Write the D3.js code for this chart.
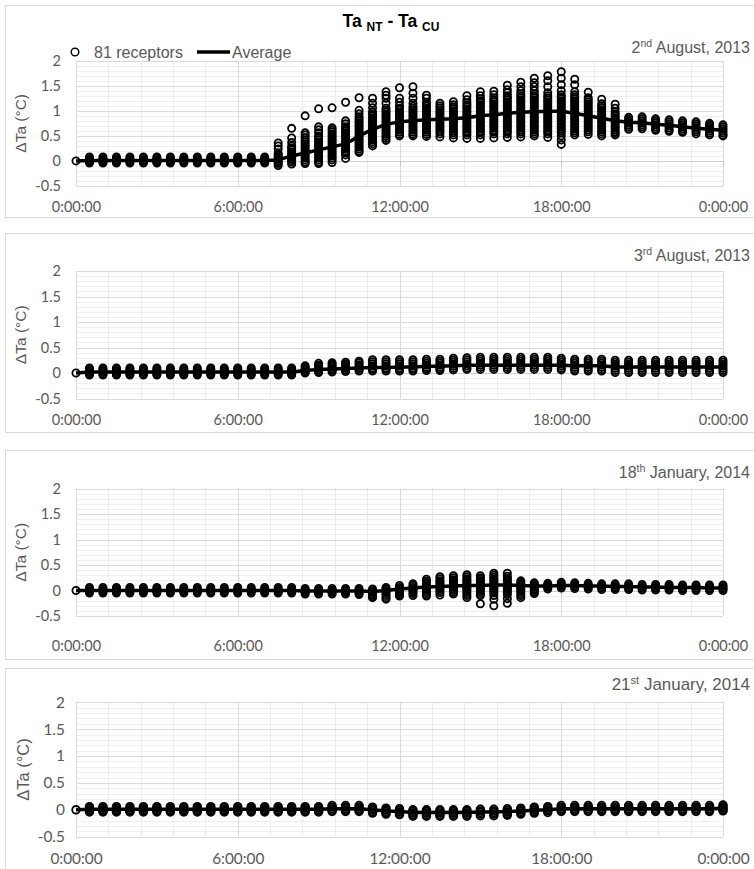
<!DOCTYPE html>
<html>
<head>
<meta charset="utf-8">
<script src="https://cdn.jsdelivr.net/npm/d3@7"></script>
<style>
  body { margin: 0; background: #fff; }
  svg { display: block; }
</style>
</head>
<body>
<svg id="chart" width="754" height="869"></svg>
<script>
// Half-hourly readings: column i is at i * 0.5 h, 49 columns from 0:00 to 24:00.
const TIME_STEP_H = 0.5;
const majorHours = [0, 6, 12, 18, 24];
const yMajorTicks = [-0.5, 0, 0.5, 1, 1.5, 2];

// ---- 2nd August 2013: receptor values per half-hour column and the average ----
const aug2Receptors = [
  [0],
  [0.08,0.05,0.02,0,-0.02,-0.04],
  [0.08,0.05,0.02,0,-0.02,-0.04],
  [0.08,0.05,0.02,0,-0.02,-0.04],
  [0.08,0.05,0.02,0,-0.02,-0.04],
  [0.08,0.05,0.02,0,-0.02,-0.04],
  [0.08,0.05,0.02,0,-0.02,-0.04],
  [0.08,0.05,0.02,0,-0.02,-0.04],
  [0.08,0.05,0.02,0,-0.02,-0.04],
  [0.08,0.05,0.02,0,-0.02,-0.04],
  [0.08,0.05,0.02,0,-0.02,-0.04],
  [0.08,0.05,0.02,0,-0.02,-0.04],
  [0.08,0.05,0.02,0,-0.02,-0.04],
  [0.08,0.05,0.02,0,-0.02,-0.04],
  [0.08,0.05,0.02,0,-0.02,-0.04],
  [0.36,0.3,0.24,0.15,0.12,0.09,0.06,0.03,0,-0.03,-0.05,-0.09],
  [0.65,0.46,0.37,0.3,0.26,0.22,0.18,0.14,0.1,0.07,0.04,0.01,-0.02,-0.06],
  [0.9,0.56,0.52,0.47,0.42,0.38,0.34,0.3,0.26,0.22,0.18,0.14,0.1,0.06,0.02,-0.02,-0.05],
  [1.04,0.68,0.62,0.56,0.5,0.46,0.42,0.38,0.34,0.3,0.26,0.22,0.18,0.14,0.1,0.06,0.02,-0.02,-0.05],
  [1.06,0.66,0.62,0.58,0.54,0.5,0.46,0.42,0.38,0.34,0.3,0.26,0.22,0.18,0.14,0.1,0.06,0.02,-0.03],
  [1.17,0.8,0.74,0.68,0.64,0.6,0.56,0.52,0.48,0.44,0.4,0.36,0.32,0.28,0.24,0.2,0.16,0.12,0.05],
  [1.26,1.01,0.94,0.88,0.84,0.8,0.76,0.72,0.68,0.64,0.6,0.56,0.52,0.48,0.44,0.4,0.36,0.32,0.28,0.24,0.2,0.17],
  [1.25,1.15,1.06,0.98,0.94,0.9,0.86,0.82,0.78,0.74,0.7,0.66,0.62,0.58,0.54,0.5,0.46,0.42,0.38,0.34,0.3],
  [1.38,1.31,1.25,1.15,1.05,1.01,0.97,0.93,0.89,0.85,0.81,0.77,0.73,0.69,0.65,0.61,0.57,0.53,0.49,0.45,0.41],
  [1.46,1.25,1.17,1.1,1.05,1.01,0.97,0.93,0.89,0.85,0.81,0.77,0.73,0.69,0.65,0.61,0.57,0.53,0.5],
  [1.48,1.35,1.25,1.15,1.09,1.05,1.01,0.97,0.93,0.89,0.85,0.81,0.77,0.73,0.69,0.65,0.61,0.57,0.53,0.5],
  [1.31,1.25,1.17,1.13,1.09,1.05,1.01,0.97,0.93,0.89,0.85,0.81,0.77,0.73,0.69,0.65,0.61,0.57,0.53,0.49],
  [1.15,1.1,1.06,1.02,0.98,0.94,0.9,0.86,0.82,0.78,0.74,0.7,0.66,0.62,0.58,0.54,0.48],
  [1.18,1.12,1.08,1.04,1,0.96,0.92,0.88,0.84,0.8,0.76,0.72,0.68,0.64,0.6,0.56,0.52,0.46],
  [1.3,1.22,1.16,1.12,1.08,1.04,1,0.96,0.92,0.88,0.84,0.8,0.76,0.72,0.68,0.64,0.6,0.56,0.52,0.45],
  [1.38,1.3,1.24,1.2,1.16,1.12,1.08,1.04,1,0.96,0.92,0.88,0.84,0.8,0.76,0.72,0.68,0.64,0.6,0.56,0.52,0.45],
  [1.39,1.32,1.26,1.22,1.18,1.14,1.1,1.06,1.02,0.98,0.94,0.9,0.86,0.82,0.78,0.74,0.7,0.66,0.62,0.58,0.54,0.46],
  [1.51,1.42,1.36,1.3,1.26,1.22,1.18,1.14,1.1,1.06,1.02,0.98,0.94,0.9,0.86,0.82,0.78,0.74,0.7,0.66,0.62,0.58,0.54,0.47],
  [1.57,1.48,1.4,1.34,1.3,1.26,1.22,1.18,1.14,1.1,1.06,1.02,0.98,0.94,0.9,0.86,0.82,0.78,0.74,0.7,0.66,0.62,0.58,0.54,0.48],
  [1.65,1.56,1.48,1.4,1.34,1.3,1.26,1.22,1.18,1.14,1.1,1.06,1.02,0.98,0.94,0.9,0.86,0.82,0.78,0.74,0.7,0.66,0.62,0.58,0.54,0.5],
  [1.7,1.6,1.48,1.36,1.3,1.26,1.22,1.18,1.14,1.1,1.06,1.02,0.98,0.94,0.9,0.86,0.82,0.78,0.74,0.7,0.66,0.62,0.58,0.54,0.47],
  [1.78,1.65,1.52,1.4,1.32,1.28,1.24,1.2,1.16,1.12,1.08,1.04,1,0.96,0.92,0.88,0.84,0.8,0.76,0.72,0.68,0.64,0.6,0.56,0.5,0.42,0.33],
  [1.63,1.52,1.38,1.32,1.28,1.24,1.2,1.16,1.12,1.08,1.04,1,0.96,0.92,0.88,0.84,0.8,0.76,0.72,0.68,0.64,0.6,0.56,0.52],
  [1.37,1.26,1.22,1.18,1.14,1.1,1.06,1.02,0.98,0.94,0.9,0.86,0.82,0.78,0.74,0.7,0.66,0.62,0.58,0.53],
  [1.23,1.14,1.1,1.06,1.02,0.98,0.94,0.9,0.86,0.82,0.78,0.74,0.7,0.66,0.62,0.58,0.54,0.5],
  [1.13,1.05,0.98,0.94,0.9,0.86,0.82,0.78,0.74,0.7,0.66,0.62,0.58,0.55,0.52],
  [0.87,0.83,0.79,0.75,0.71,0.67,0.63],
  [0.88,0.84,0.8,0.76,0.72,0.68,0.64],
  [0.84,0.8,0.76,0.72,0.68,0.64,0.61],
  [0.82,0.78,0.74,0.7,0.66,0.62,0.59],
  [0.8,0.76,0.72,0.68,0.64,0.6,0.57],
  [0.78,0.74,0.7,0.66,0.62,0.58,0.54],
  [0.75,0.71,0.67,0.63,0.59,0.55,0.52],
  [0.72,0.68,0.64,0.6,0.56,0.52,0.5]
];
const aug2Average = [
  0, 0.01,0.01,0.01,0.01,0.01,0.01,0.01,0.01,0.01,0.01,0.01,0.01,0.01,0.01,
  0.02, 0.1, 0.16, 0.22, 0.28, 0.34, 0.5, 0.63, 0.73, 0.78, 0.8, 0.82, 0.83, 0.84, 0.86,
  0.9, 0.92, 0.95, 0.97, 0.98, 0.99, 0.99, 0.95, 0.9, 0.85, 0.8, 0.77, 0.76, 0.73,
  0.71, 0.68, 0.65, 0.63, 0.61
];

// ---- 3rd August 2013 ----
const aug3Receptors = [
  [0],
  [0.1,0.07,0.04,0.01,-0.02,-0.04],
  [0.1,0.07,0.04,0.01,-0.02,-0.04],
  [0.1,0.07,0.04,0.01,-0.02,-0.04],
  [0.1,0.07,0.04,0.01,-0.02,-0.04],
  [0.1,0.07,0.04,0.01,-0.02,-0.04],
  [0.1,0.07,0.04,0.01,-0.02,-0.04],
  [0.1,0.07,0.04,0.01,-0.02,-0.04],
  [0.1,0.07,0.04,0.01,-0.02,-0.04],
  [0.1,0.07,0.04,0.01,-0.02,-0.04],
  [0.1,0.07,0.04,0.01,-0.02,-0.04],
  [0.1,0.07,0.04,0.01,-0.02,-0.04],
  [0.1,0.07,0.04,0.01,-0.02,-0.04],
  [0.1,0.07,0.04,0.01,-0.02,-0.04],
  [0.1,0.07,0.04,0.01,-0.02,-0.04],
  [0.1,0.07,0.04,0.01,-0.02,-0.04],
  [0.1,0.07,0.04,0.01,-0.02,-0.04],
  [0.14,0.11,0.08,0.05,0.02,0],
  [0.19,0.15,0.12,0.09,0.06,0.03,0.01],
  [0.2,0.17,0.14,0.11,0.08,0.05,0.02],
  [0.21,0.18,0.15,0.12,0.09,0.06,0.03],
  [0.23,0.2,0.16,0.13,0.1,0.07,0.04],
  [0.26,0.22,0.18,0.14,0.1,0.07,0.04],
  [0.26,0.22,0.18,0.14,0.1,0.07,0.04],
  [0.26,0.22,0.18,0.14,0.1,0.07,0.04],
  [0.26,0.22,0.18,0.14,0.1,0.07,0.04],
  [0.27,0.23,0.19,0.15,0.11,0.08,0.05],
  [0.27,0.23,0.19,0.15,0.11,0.08,0.05],
  [0.29,0.25,0.21,0.17,0.13,0.09,0.06],
  [0.3,0.26,0.22,0.18,0.14,0.1,0.07],
  [0.31,0.27,0.23,0.19,0.15,0.11,0.07],
  [0.31,0.27,0.23,0.19,0.15,0.11,0.07],
  [0.31,0.27,0.23,0.19,0.15,0.11,0.07],
  [0.31,0.27,0.23,0.19,0.15,0.11,0.07],
  [0.31,0.27,0.23,0.19,0.15,0.11,0.07],
  [0.31,0.27,0.23,0.19,0.15,0.11,0.07],
  [0.29,0.25,0.21,0.17,0.13,0.09,0.06],
  [0.27,0.23,0.19,0.15,0.11,0.07,0.04],
  [0.27,0.23,0.19,0.15,0.11,0.07,0.04],
  [0.27,0.23,0.19,0.15,0.11,0.07,0.04],
  [0.25,0.21,0.17,0.13,0.09,0.05,0.01],
  [0.25,0.21,0.17,0.13,0.09,0.05,0.01],
  [0.25,0.21,0.17,0.13,0.09,0.05,0.01],
  [0.25,0.21,0.17,0.13,0.09,0.05,0.01],
  [0.25,0.21,0.17,0.13,0.09,0.05,0.01],
  [0.25,0.21,0.17,0.13,0.09,0.05,0.01],
  [0.25,0.21,0.17,0.13,0.09,0.05,0.01],
  [0.25,0.21,0.17,0.13,0.09,0.05,0.01],
  [0.25,0.21,0.17,0.13,0.09,0.05,0.01]
];
const aug3Average = [
  0, 0.02,0.02,0.02,0.02,0.02,0.02,0.02,0.02,0.02,0.02,0.02,0.02,0.02,0.02,0.02,0.02,
  0.05, 0.07, 0.08, 0.09, 0.1, 0.11, 0.11, 0.12, 0.12, 0.13, 0.13, 0.14,
  0.15, 0.15, 0.15, 0.15, 0.15, 0.15, 0.15, 0.15, 0.14, 0.14, 0.14,
  0.12, 0.12, 0.12, 0.12, 0.12, 0.12, 0.12, 0.12, 0.12
];

// ---- 18th January 2014 ----
const jan18Receptors = [
  [0],
  [0.06,0.03,0,-0.02,-0.05],
  [0.06,0.03,0,-0.02,-0.05],
  [0.06,0.03,0,-0.02,-0.05],
  [0.06,0.03,0,-0.02,-0.05],
  [0.06,0.03,0,-0.02,-0.05],
  [0.06,0.03,0,-0.02,-0.05],
  [0.06,0.03,0,-0.02,-0.05],
  [0.06,0.03,0,-0.02,-0.05],
  [0.06,0.03,0,-0.02,-0.05],
  [0.06,0.03,0,-0.02,-0.05],
  [0.06,0.03,0,-0.02,-0.05],
  [0.06,0.03,0,-0.02,-0.05],
  [0.06,0.03,0,-0.02,-0.05],
  [0.06,0.03,0,-0.02,-0.05],
  [0.06,0.03,0,-0.02,-0.05],
  [0.06,0.03,0,-0.02,-0.05],
  [0.04,0.01,-0.01,-0.04,-0.07],
  [0.04,0.01,-0.01,-0.04,-0.07],
  [0.04,0.01,-0.01,-0.04,-0.07],
  [0.04,0.01,-0.01,-0.04,-0.07],
  [0.04,0.01,-0.02,-0.05,-0.08],
  [0.03,0,-0.03,-0.06,-0.09,-0.12,-0.14],
  [0.06,0.03,0,-0.03,-0.06,-0.1,-0.14,-0.17],
  [0.1,0.06,0.03,0,-0.03,-0.06,-0.09,-0.11],
  [0.13,0.1,0.06,0.03,0,-0.03,-0.06,-0.1],
  [0.22,0.18,0.15,0.12,0.09,0.06,0.03,0,-0.04,-0.08,-0.11],
  [0.27,0.23,0.19,0.16,0.13,0.1,0.07,0.04,0,-0.04,-0.09],
  [0.29,0.25,0.21,0.18,0.15,0.12,0.09,0.06,0.03,0,-0.04,-0.07],
  [0.31,0.27,0.23,0.2,0.17,0.14,0.11,0.08,0.05,0.02,-0.02,-0.06,-0.1,-0.14],
  [0.29,0.25,0.22,0.19,0.16,0.13,0.1,0.07,0.04,0.01,-0.02,-0.06,-0.1,-0.26],
  [0.34,0.3,0.26,0.23,0.2,0.17,0.14,0.11,0.08,0.05,0.02,-0.01,-0.05,-0.1,-0.17,-0.3],
  [0.34,0.28,0.24,0.21,0.18,0.15,0.12,0.09,0.06,0.03,0,-0.04,-0.08,-0.16,-0.25],
  [0.19,0.16,0.13,0.1,0.07,0.04,0.01,-0.02,-0.06,-0.1,-0.14],
  [0.15,0.12,0.09,0.06,0.03,0,-0.03,-0.06],
  [0.14,0.11,0.08,0.06,0.03],
  [0.16,0.13,0.1,0.08,0.05],
  [0.15,0.12,0.09,0.07,0.04],
  [0.14,0.11,0.08,0.06,0.03],
  [0.13,0.1,0.07,0.05,0.02],
  [0.13,0.1,0.07,0.05,0.02],
  [0.13,0.1,0.07,0.05,0.02],
  [0.12,0.09,0.06,0.04,0.01],
  [0.12,0.09,0.06,0.04,0.01],
  [0.12,0.09,0.06,0.04,0.01],
  [0.11,0.08,0.05,0.03,0],
  [0.11,0.08,0.05,0.03,0],
  [0.11,0.08,0.05,0.03,0],
  [0.11,0.08,0.05,0.03,0]
];
const jan18Average = [
  0, 0,0,0,0,0,0,0,0,0,0,0,0,0,0,0,0,
  -0.01, -0.01, -0.01, -0.01, -0.01, -0.02, 0, 0.03, 0.05, 0.07, 0.08, 0.09,
  0.1, 0.1, 0.11, 0.11, 0.1, 0.09, 0.09, 0.1, 0.1, 0.09, 0.09,
  0.08, 0.08, 0.07, 0.07, 0.06, 0.06, 0.06, 0.05, 0.05
];

// ---- 21st January 2014 ----
const jan21Receptors = [
  [0],
  [0.06,0.03,0,-0.02,-0.04],
  [0.06,0.03,0,-0.02,-0.04],
  [0.06,0.03,0,-0.02,-0.04],
  [0.06,0.03,0,-0.02,-0.04],
  [0.06,0.03,0,-0.02,-0.04],
  [0.06,0.03,0,-0.02,-0.04],
  [0.06,0.03,0,-0.02,-0.04],
  [0.06,0.03,0,-0.02,-0.04],
  [0.06,0.03,0,-0.02,-0.04],
  [0.06,0.03,0,-0.02,-0.04],
  [0.06,0.03,0,-0.02,-0.04],
  [0.06,0.03,0,-0.02,-0.04],
  [0.06,0.03,0,-0.02,-0.04],
  [0.06,0.03,0,-0.02,-0.04],
  [0.06,0.03,0,-0.02,-0.04],
  [0.06,0.03,0,-0.02,-0.04],
  [0.06,0.03,0,-0.02,-0.04],
  [0.06,0.03,0,-0.02,-0.04],
  [0.08,0.05,0.02,-0.01,-0.03],
  [0.08,0.05,0.02,-0.01,-0.03],
  [0.08,0.05,0.02,-0.01,-0.03],
  [0.05,0.02,-0.01,-0.04,-0.06],
  [0.03,0,-0.03,-0.06,-0.08],
  [0.02,-0.01,-0.04,-0.07,-0.09],
  [0,-0.03,-0.06,-0.09,-0.12],
  [0,-0.03,-0.06,-0.09,-0.12],
  [0,-0.03,-0.06,-0.09,-0.12],
  [0,-0.03,-0.06,-0.09,-0.12],
  [0,-0.03,-0.06,-0.09,-0.12],
  [0.01,-0.02,-0.05,-0.08,-0.11],
  [0.01,-0.02,-0.05,-0.08,-0.11],
  [0.02,-0.01,-0.04,-0.07,-0.1],
  [0.03,0,-0.03,-0.06,-0.08],
  [0.05,0.02,-0.01,-0.04,-0.06],
  [0.06,0.03,0,-0.02,-0.05],
  [0.08,0.05,0.02,-0.01,-0.03],
  [0.08,0.05,0.02,-0.01,-0.03],
  [0.08,0.05,0.02,-0.01,-0.03],
  [0.08,0.05,0.02,-0.01,-0.03],
  [0.08,0.05,0.02,-0.01,-0.03],
  [0.08,0.05,0.02,-0.01,-0.03],
  [0.08,0.05,0.02,-0.01,-0.03],
  [0.08,0.05,0.02,-0.01,-0.03],
  [0.08,0.05,0.02,-0.01,-0.03],
  [0.08,0.05,0.02,-0.01,-0.03],
  [0.08,0.05,0.02,-0.01,-0.03],
  [0.08,0.05,0.02,-0.01,-0.03],
  [0.09,0.06,0.03,0,-0.02]
];
const jan21Average = [
  0, 0.01,0.01,0.01,0.01,0.01,0.01,0.01,0.01,0.01,0.01,0.01,0.01,0.01,0.01,0.01,0.01,0.01,0.01,
  0.02, 0.02, 0.02, 0, -0.02, -0.03, -0.05, -0.05, -0.05, -0.05, -0.05, -0.04, -0.04,
  -0.03, -0.02, -0.01, 0, 0.02, 0.02, 0.02, 0.02, 0.02, 0.02, 0.02, 0.02, 0.02, 0.02,
  0.02, 0.02, 0.03
];

// ---- layout ----
const svg = d3.select("#chart");
const TEXT = "#595959";
const SANS = "'Liberation Sans', Arial, sans-serif";
const TICKFONT = "Lato, 'Open Sans', sans-serif";
const MARKER_R = 3.6;
const MARKER_W = 1.8;

const x = d3.scaleLinear().domain([0, 24]).range([76, 723]);

const panels = [
  { date: ["2", "nd", " August, 2013"], receptors: aug2Receptors, average: aug2Average,
    boxTop: 5, boxBottom: 217, yTop: 60.7, yBottom: 186, xLabelBase: 212, dateBase: 52.5, k: 1, title: true },
  { date: ["3", "rd", " August, 2013"], receptors: aug3Receptors, average: aug3Average,
    boxTop: 233, boxBottom: 432, yTop: 271, yBottom: 398.5, xLabelBase: 425, dateBase: 261, k: 1 },
  { date: ["18", "th", " January, 2014"], receptors: jan18Receptors, average: jan18Average,
    boxTop: 450, boxBottom: 659, yTop: 488.5, yBottom: 616, xLabelBase: 651, dateBase: 478, k: 1 },
  { date: ["21", "st", " January, 2014"], receptors: jan21Receptors, average: jan21Average,
    boxTop: 668, boxBottom: 880, yTop: 702.3, yBottom: 836.7, xLabelBase: 864, dateBase: 690, k: 1.06 }
];

const crisp = v => Math.round(v) + 0.5;

panels.forEach(p => {
  const g = svg.append("g");
  const y = d3.scaleLinear().domain([-0.5, 2]).range([p.yBottom, p.yTop]);
  const tickFs = 14.5 * p.k;
  const labelFs = 16 * p.k;

  // panel frame (runs past the right edge of the page)
  g.append("rect")
    .attr("x", 5.5).attr("y", p.boxTop + 0.5)
    .attr("width", 760).attr("height", p.boxBottom - p.boxTop)
    .attr("fill", "#fff").attr("stroke", "#d9d9d9").attr("stroke-width", 1);

  // minor gridlines
  const grid = g.append("g");
  grid.selectAll("line.hmin").data(y.ticks(25)).join("line")
    .attr("x1", x(0)).attr("x2", x(24))
    .attr("y1", d => crisp(y(d))).attr("y2", d => crisp(y(d)))
    .attr("stroke", "#efefef");
  grid.selectAll("line.vmin").data(d3.range(0, 24.001, 1.2)).join("line")
    .attr("x1", d => crisp(x(d))).attr("x2", d => crisp(x(d)))
    .attr("y1", y(2)).attr("y2", y(-0.5))
    .attr("stroke", "#ececec");
  // major gridlines
  g.append("g").selectAll("line").data(yMajorTicks).join("line")
    .attr("x1", x(0)).attr("x2", x(24))
    .attr("y1", d => crisp(y(d))).attr("y2", d => crisp(y(d)))
    .attr("stroke", d => d === 0 ? "#cfcfcf" : "#dadada");
  g.append("g").selectAll("line").data(majorHours).join("line")
    .attr("x1", d => crisp(x(d))).attr("x2", d => crisp(x(d)))
    .attr("y1", y(2)).attr("y2", y(-0.5))
    .attr("stroke", "#dadada");
  // tick marks on the zero axis
  g.append("g").selectAll("line").data(majorHours).join("line")
    .attr("x1", d => crisp(x(d))).attr("x2", d => crisp(x(d)))
    .attr("y1", y(0)).attr("y2", y(0) + 5)
    .attr("stroke", "#c4c4c4");

  // y axis labels
  const yAxis = g.append("g")
    .attr("transform", `translate(${x(0)},0)`)
    .call(d3.axisLeft(y).tickValues(yMajorTicks).tickSize(0).tickPadding(15 * p.k - (p.k - 1) * 80)
      .tickFormat(d => String(d)));
  yAxis.select(".domain").remove();
  yAxis.selectAll("text").attr("fill", TEXT).style("font-family", TICKFONT).style("font-size", tickFs + "px");

  // x axis labels (placed below the plot area)
  const xAxis = g.append("g")
    .attr("transform", `translate(0,${p.yBottom})`)
    .call(d3.axisBottom(x).tickValues(majorHours).tickSize(0)
      .tickPadding(p.xLabelBase - p.yBottom - 0.71 * tickFs)
      .tickFormat(h => `${h % 24}:00:00`));
  xAxis.select(".domain").remove();
  xAxis.selectAll("text").attr("fill", TEXT).style("font-family", TICKFONT).style("font-size", tickFs + "px");

  // y axis title
  g.append("text")
    .attr("transform", `translate(${21 * p.k + (p.k - 1) * 10},${(p.yTop + p.yBottom) / 2}) rotate(-90)`)
    .attr("text-anchor", "middle").attr("dy", "0.35em")
    .attr("fill", TEXT).style("font-family", SANS).style("font-size", (15.5 * p.k) + "px")
    .text("ΔTa (°C)");

  // date label with superscript ordinal
  const dt = g.append("text")
    .attr("x", 750).attr("y", p.dateBase).attr("text-anchor", "end")
    .attr("fill", TEXT).style("font-family", SANS).style("font-size", labelFs + "px");
  dt.append("tspan").text(p.date[0]);
  dt.append("tspan").attr("dy", -6 * p.k).style("font-size", (10.5 * p.k) + "px").text(p.date[1]);
  dt.append("tspan").attr("dy", 6 * p.k).text(p.date[2]);

  // receptor markers
  const pts = p.receptors.flatMap((vals, i) => vals.map(v => ({ t: i * TIME_STEP_H, v })));
  g.append("g").selectAll("circle").data(pts).join("circle")
    .attr("cx", d => x(d.t)).attr("cy", d => y(d.v)).attr("r", MARKER_R * p.k)
    .attr("fill", "none").attr("stroke", "#000").attr("stroke-width", MARKER_W);

  // average line
  const line = d3.line().x((d, i) => x(i * TIME_STEP_H)).y(d => y(d));
  g.append("path").datum(p.average).attr("d", line)
    .attr("fill", "none").attr("stroke", "#000").attr("stroke-width", 3.5)
    .attr("stroke-linejoin", "round");

  if (p.title) {
    const t = g.append("text").attr("x", 391).attr("y", 27).attr("text-anchor", "middle")
      .attr("fill", "#000").style("font-family", SANS).style("font-weight", "bold").style("font-size", "17.5px");
    t.append("tspan").text("Ta ");
    t.append("tspan").attr("dy", 4).style("font-size", "12px").text("NT");
    t.append("tspan").attr("dy", -4).text(" - Ta ");
    t.append("tspan").attr("dy", 4).style("font-size", "12px").text("CU");

    // legend
    const lg = g.append("g");
    lg.append("circle").attr("cx", 75).attr("cy", 52).attr("r", 3.8)
      .attr("fill", "none").attr("stroke", "#000").attr("stroke-width", 1.4);
    lg.append("text").attr("x", 94).attr("y", 57.5).attr("fill", TEXT)
      .style("font-family", SANS).style("font-size", "16px").text("81 receptors");
    lg.append("line").attr("x1", 197).attr("x2", 230).attr("y1", 52).attr("y2", 52)
      .attr("stroke", "#000").attr("stroke-width", 3.5);
    lg.append("text").attr("x", 232).attr("y", 57.5).attr("fill", TEXT)
      .style("font-family", SANS).style("font-size", "16px").text("Average");
  }
});
</script>
</body>
</html>
